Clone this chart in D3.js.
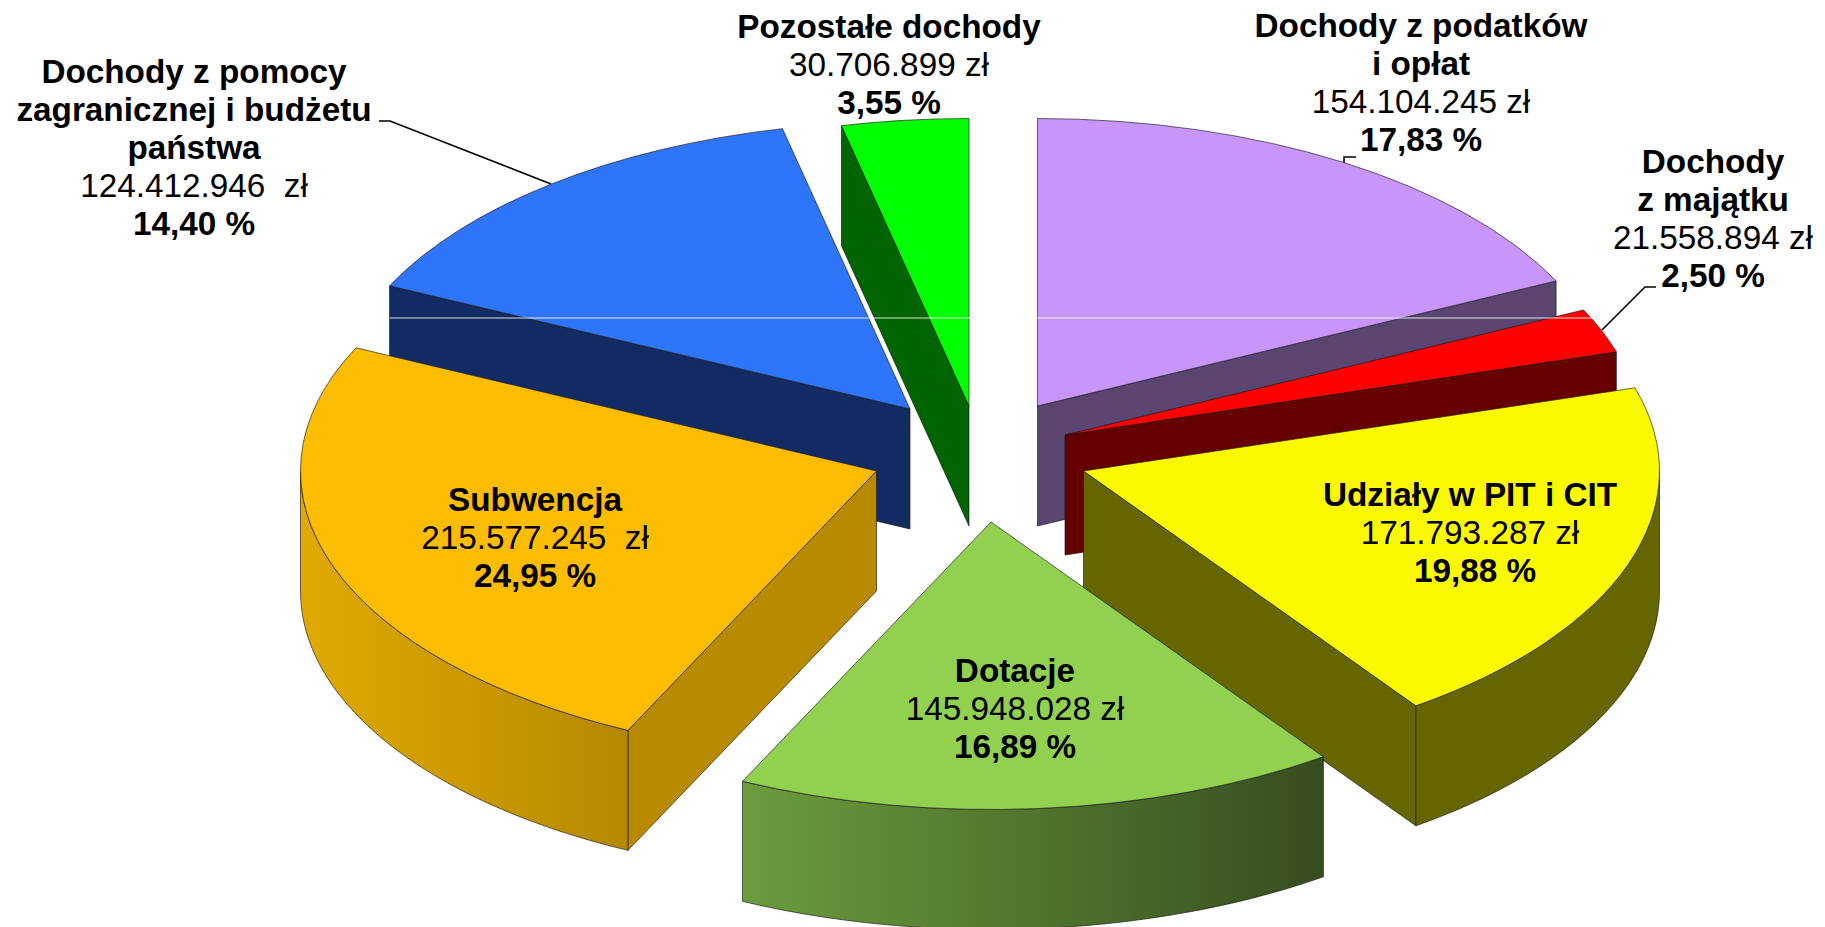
<!DOCTYPE html>
<html lang="pl">
<head>
<meta charset="utf-8">
<script src="https://cdn.jsdelivr.net/npm/d3@7/dist/d3.min.js"></script>
<style>
html,body{margin:0;padding:0;background:#fff}
svg{display:block}
text{font-family:"Liberation Sans",Arial,sans-serif;font-size:33.3px;fill:#000;white-space:pre;text-anchor:middle}
</style>
</head>
<body>
<svg id="c" width="1825" height="927"></svg>
<script>
// --- data ---
const categories = [
  ["Dochody z podatków","i opłat"],
  ["Dochody","z majątku"],
  ["Udziały w PIT i CIT"],
  ["Dotacje"],
  ["Subwencja"],
  ["Dochody z pomocy","zagranicznej i budżetu","państwa"],
  ["Pozostałe dochody"]
];
const values = [154104245, 21558894, 171793287, 145948028, 215577245, 124412946, 30706899];
const valueLabels = ["154.104.245 zł","21.558.894 zł","171.793.287 zł","145.948.028 zł","215.577.245  zł","124.412.946  zł","30.706.899 zł"];
const percentLabels = ["17,83 %","2,50 %","19,88 %","16,89 %","24,95 %","14,40 %","3,55 %"];

// --- styling / layout (separate from the data) ---
const topColors  = ["#c896fb","#ff0000","#fbf900","#92d050","#fcbd00","#2e75fb","#00ff00"];
const wallColors = ["#5a4570","#660000","#666600","#3a5320","#b88a00","#122c63","#006400"];
const rimGradients = [null,null,null,["#6b9c3e","#364d1e"],["#e0aa00","#b58800"],null,null];
const apexX = [1037.5,1065,1083.5,991,876.5,910,969];
const apexY = [406,435,471,522,471,409,406];
const labelX = [1421,1713,1470,1015,535,194,889];
const labelY = [37,172.5,506,682,511,83,37.5];
const percentDx = [0,0,5,0,0,0,0];
const lineStep = 38;
const paintOrder = [6,0,5,1,2,4,3];
const rx = 576, ry = 287.5, depth = 120;
const leaders = [
  {i:5, pts:[[379,121],[390,121],[551,184]]},
  {i:0, pts:[[1356,157],[1344,157],[1344,170]]},
  {i:1, pts:[[1656,287],[1645,287],[1602,330]]}
];

const svg = d3.select("#c");
const defs = svg.append("defs");
const pie = d3.pie().sort(null).value(d=>d);
const arcs = pie(values);
const arc = d3.arc().innerRadius(0).outerRadius(rx);
const line = d3.line();
const rimX = d3.scaleLinear().domain([-1,1]).range([-rx,rx]);
const rimY = d3.scaleLinear().domain([-1,1]).range([-ry,ry]);
const pt = (i,a)=>[apexX[i]+rimX(Math.sin(a)), apexY[i]+rimY(-Math.cos(a))];

rimGradients.forEach((g,i)=>{
  if(!g) return;
  const lg = defs.append("linearGradient").attr("id","rim"+i);
  lg.append("stop").attr("offset","0").attr("stop-color",g[0]);
  lg.append("stop").attr("offset","1").attr("stop-color",g[1]);
});

const stroke = "rgba(20,20,20,.8)";

// leader lines sit behind the pie
svg.append("g").selectAll("path").data(leaders).join("path")
  .attr("d",d=>line(d.pts)).attr("fill","none").attr("stroke","#000").attr("stroke-width",1.6);

const pies = svg.append("g");
paintOrder.forEach(i=>{
  const d = arcs[i], g = pies.append("g");
  const a0 = d.startAngle, a1 = d.endAngle, mid = (a0+a1)/2;
  const apex = [apexX[i],apexY[i]];
  const midPt = [apex[0]+rimX(Math.sin(mid))*.6, apex[1]+rimY(-Math.cos(mid))*.6];
  const down = p=>[p[0],p[1]+depth];
  // radial walls: only those whose sector lies above the edge face the viewer
  [a0,a1].forEach(a=>{
    const e = pt(i,a), dx = e[0]-apex[0];
    if(Math.abs(dx)<1) return;
    const lineY = apex[1]+(e[1]-apex[1])*(midPt[0]-apex[0])/dx;
    if(midPt[1] < lineY){
      g.append("path").attr("d",line([apex,e,down(e),down(apex)])+"Z")
        .attr("fill",wallColors[i]).attr("stroke",stroke).attr("stroke-width",.8);
    }
  });
  // curved outer wall: front half of the rim only
  const from = Math.max(a0,Math.PI/2), to = Math.min(a1,Math.PI*1.5);
  if(to>from){
    const angles = d3.range(41).map(k=>from+(to-from)*k/40);
    const upper = angles.map(a=>pt(i,a));
    const lower = upper.map(down).reverse();
    g.append("path").attr("d",line(upper.concat(lower))+"Z")
      .attr("fill",rimGradients[i]?`url(#rim${i})`:wallColors[i])
      .attr("stroke",stroke).attr("stroke-width",.8);
  }
  // top face
  g.append("path").attr("d",arc(d))
    .attr("transform",`translate(${apex}) scale(1,${ry/rx})`)
    .attr("fill",topColors[i]).attr("stroke",stroke).attr("stroke-width",.8)
    .attr("vector-effect","non-scaling-stroke");
});

// thin white scan line that crosses the back of the pie
svg.append("path").attr("d",line([[390,318],[1592,318]]))
  .attr("stroke","#fff").attr("stroke-opacity",.85).attr("stroke-width",1);

// labels
const labels = svg.append("g");
categories.forEach((name,i)=>{
  const g = labels.append("text").attr("x",labelX[i]).attr("y",labelY[i]);
  const rows = name.map(t=>[t,700,0]).concat([[valueLabels[i],400,0],[percentLabels[i],700,percentDx[i]]]);
  rows.forEach((r,k)=>{
    g.append("tspan").attr("x",labelX[i]+r[2]).attr("y",labelY[i]+k*lineStep)
      .attr("font-weight",r[1]).text(r[0]);
  });
});
</script>
</body>
</html>
